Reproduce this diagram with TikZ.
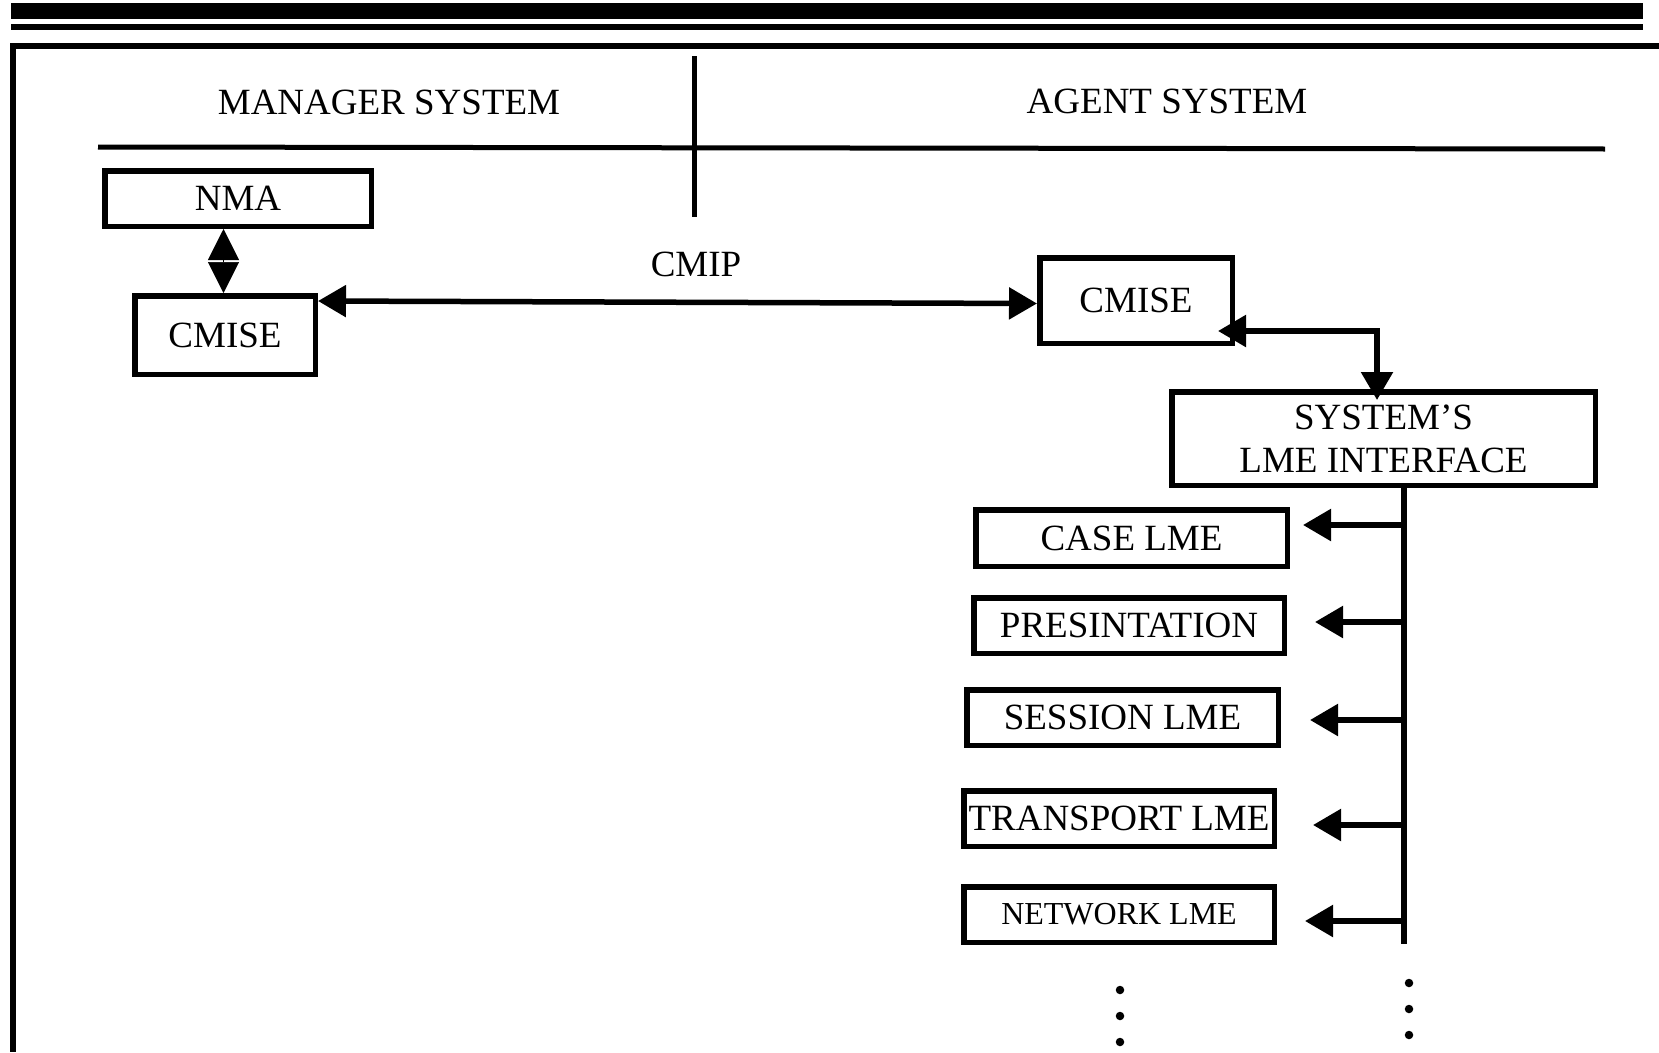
\documentclass[tikz,border=0pt]{standalone}
\usepackage{fontspec}
\setmainfont{Liberation Serif}
\usetikzlibrary{arrows.meta}

\tikzset{
  lbl/.style={font=\fontsize{37}{43}\selectfont, inner sep=0pt, align=center},
  box/.style={draw, line width=5.5pt, inner sep=0pt, align=center,
              font=\fontsize{37}{43}\selectfont},
  tip/.tip={Triangle[length=28pt,width=31pt]},
  conn/.style={line width=5.5pt},
  oneway/.style={conn, -tip},
  twoway/.style={conn, tip-tip},
  busline/.style={line width=5.5pt},
  dot/.style={circle, fill, inner sep=0pt, minimum size=8.5pt},
}

\begin{document}
\begin{tikzpicture}[x=1pt, y=-1pt]
  \useasboundingbox (0,0) rectangle (1659,1052);

  % page rules and frame
  \fill (11,3) rectangle (1643,19);
  \fill (11,24) rectangle (1643,30);
  \fill (10,43) rectangle (1659,49);
  \fill (10,43) rectangle (16,1052);

  % header and dividers
  \node[lbl] (mgr) at (389,102.5) {MANAGER SYSTEM};
  \node[lbl] (agt) at (1167,101.5) {AGENT SYSTEM};
  \draw[line width=5pt] (98,147) -- (1605,149);
  \draw[line width=5pt] (694,56) -- (694,217);

  % manager side
  \node[box, minimum width=266.5pt, minimum height=55.5pt] (nma) at (238,198.5) {NMA};
  \node[box, minimum width=180.5pt, minimum height=78.5pt] (cmiseM) at (225,335) {CMISE};
  \draw[line width=0.5pt, {Triangle[length=31pt,width=31pt]}-{Triangle[length=31pt,width=31pt]}]
    ([xshift=-1.5pt]cmiseM.north) -- ([xshift=-1.5pt]cmiseM.north |- nma.south);

  % CMIP link
  \node[lbl] (cmip) at (696,264.5) {CMIP};
  \node[box, minimum width=192.5pt, minimum height=85.5pt] (cmiseA) at (1136,300.5) {CMISE};
  \draw[twoway] ([yshift=34pt]cmiseM.east) -- ([yshift=-3pt]cmiseA.west);

  % agent side
  \node[box, minimum width=423.5pt, minimum height=93.5pt] (lmeif) at (1383.5,438.5)
    {SYSTEM’S\\LME INTERFACE};
  \coordinate (bend) at (1377,331);
  \draw[twoway, shorten <=-17pt, shorten >=-11pt]
    (cmiseA.east |- bend) -- (bend) -- (bend |- lmeif.north);

  % layer entities
  \node[box, minimum width=311.5pt, minimum height=56.5pt] (case) at (1131.5,538) {CASE LME};
  \node[box, minimum width=310.5pt, minimum height=55.5pt] (pres) at (1129,625.5) {PRESINTATION};
  \node[box, minimum width=311.5pt, minimum height=55.5pt] (sess) at (1122.5,717.5) {SESSION LME};
  \node[box, minimum width=310.5pt, minimum height=55.5pt] (trans) at (1119,818.5) {TRANSPORT LME};
  \node[box, minimum width=310.5pt, minimum height=55.5pt,
        font=\fontsize{32}{38}\selectfont] (net) at (1119,914.5) {NETWORK LME};

  % distribution bus
  \coordinate (busend) at (1404,944);
  \draw[busline] (busend |- lmeif.south) -- (busend);
  \coordinate (b1) at (1404,525);
  \coordinate (b2) at (1404,622);
  \coordinate (b3) at (1404,720);
  \coordinate (b4) at (1404,825);
  \coordinate (b5) at (1404,921);
  \draw[oneway, shorten >=13pt] (b1) -- (b1 -| case.east);
  \draw[oneway, shorten >=28pt] (b2) -- (b2 -| pres.east);
  \draw[oneway, shorten >=29pt] (b3) -- (b3 -| sess.east);
  \draw[oneway, shorten >=36pt] (b4) -- (b4 -| trans.east);
  \draw[oneway, shorten >=28pt] (b5) -- (b5 -| net.east);

  % continuation marks
  \node[dot] (l1) at (1120,990) {};
  \node[dot] (l2) at (1120,1016) {};
  \node[dot] (l3) at (1120,1042) {};
  \node[dot] (r1) at (1409,983) {};
  \node[dot] (r2) at (1409,1009) {};
  \node[dot] (r3) at (1409,1035) {};
\end{tikzpicture}
\end{document}
